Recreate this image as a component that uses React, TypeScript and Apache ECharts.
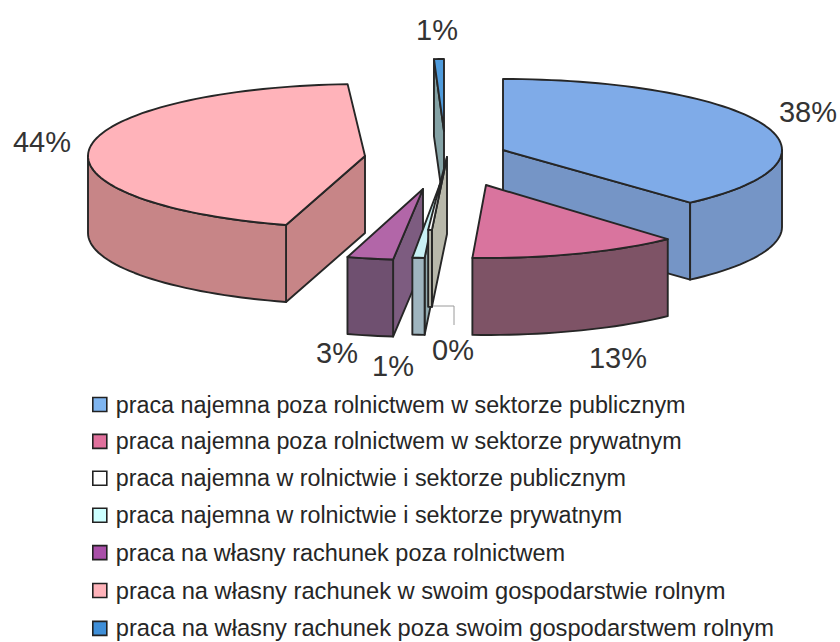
import React, { useEffect, useRef } from "react";
import * as echarts from "echarts";

const categories = [
  "praca najemna poza rolnictwem w sektorze publicznym",
  "praca najemna poza rolnictwem w sektorze prywatnym",
  "praca najemna w rolnictwie i sektorze publicznym",
  "praca najemna w rolnictwie i sektorze prywatnym",
  "praca na własny rachunek poza rolnictwem",
  "praca na własny rachunek w swoim gospodarstwie rolnym",
  "praca na własny rachunek poza swoim gospodarstwem rolnym",
];
const values = [38.3, 12.5, 0.2, 0.8, 2.8, 44.4, 1.0];

const topColors = ["#7fabe8", "#d9749e", "#ffffff", "#c9f1f5", "#b266a8", "#ffb3ba", "#4f9bdc"];
const outerColors = ["#7595c6", "#7e5366", "#b8b8aa", "#9fb5bf", "#6f5070", "#c78587", "#6f93a8"];
const radialColors = ["#7595c6", "#7e5366", "#b8b8aa", "#93adb2", "#7d5c80", "#c78587", "#85a3a6"];
const legendColors = ["#7fb5f0", "#e0709c", "#ffffff", "#ccffff", "#a94fa8", "#ffb3ba", "#3f8fd8"];
const legendFontSizes = [23.3, 23.3, 23.3, 23.3, 23.5, 23.7, 23.7];

// exploded position of every slice: apex x, apex y, radius x, radius y
const sliceLayout = [
  [503, 150, 279, 71],
  [486, 185, 271, 73],
  [447, 157, 300, 73],
  [440, 184, 245, 74],
  [423, 189, 265, 71],
  [365, 156, 277, 72],
  [444, 131, 160, 72],
];
const depth = 77;
const paintOrder = [6, 0, 5, 4, 3, 2, 1];
const labelLayout = [
  [808, 112],
  [618, 358],
  [453, 350],
  [393, 366],
  [337, 353],
  [42, 142],
  [437, 30],
];
const edge = "#262626";

const total = values.reduce((a, b) => a + b, 0);
const DEG = Math.PI / 180;

function range(i: number): [number, number] {
  let s = 0;
  for (let k = 0; k < i; k++) s += values[k];
  return [(s / total) * 360, ((s + values[i]) / total) * 360];
}

function rim(i: number, a: number): [number, number] {
  const [ax, ay, rx, ry] = sliceLayout[i];
  return [ax + rx * Math.sin(a * DEG), ay - ry * Math.cos(a * DEG)];
}

function arc(i: number, from: number, to: number, dy = 0): number[][] {
  const out: number[][] = [];
  const n = Math.max(2, Math.ceil(Math.abs(to - from) / 2));
  for (let k = 0; k <= n; k++) {
    const p = rim(i, from + ((to - from) * k) / n);
    out.push([p[0], p[1] + dy]);
  }
  return out;
}

function poly(points: number[][], fill: string) {
  return {
    type: "polygon",
    shape: { points },
    style: { fill, stroke: edge, lineWidth: 1.9, lineJoin: "round" },
  };
}

function renderSlice(i: number) {
  const [s, e] = range(i);
  const [ax, ay] = sliceLayout[i];
  const children: any[] = [];
  const wall = (a: number) => {
    const p = rim(i, a);
    return poly(
      [
        [ax, ay],
        p,
        [p[0], p[1] + depth],
        [ax, ay + depth],
      ],
      radialColors[i]
    );
  };
  if (Math.sin(s * DEG) < -1e-6) children.push(wall(s));
  if (Math.sin(e * DEG) > 1e-6) children.push(wall(e));
  const from = Math.max(s, 90);
  const to = Math.min(e, 270);
  if (to > from) {
    children.push(
      poly([...arc(i, from, to), ...arc(i, to, from, depth)], outerColors[i])
    );
  }
  children.push(poly([[ax, ay], ...arc(i, s, e)], topColors[i]));
  return { type: "group", children };
}

export default function App() {
  const ref = useRef<HTMLDivElement>(null);
  useEffect(() => {
    const chart = echarts.init(ref.current!, undefined, { renderer: "svg" });
    chart.setOption({
      animation: false,
      backgroundColor: "#ffffff",
      legend: {
        orient: "vertical",
        left: 92,
        top: 393,
        padding: 0,
        height: 400,
        itemWidth: 14,
        itemHeight: 14,
        itemGap: 13.9,
        selectedMode: false,
        textStyle: {
          fontFamily: "Liberation Sans",
          fontSize: 23.3,
          color: "#262626",
          padding: [0, 0, 0, 4],
        },
        data: categories.map((name, i) => ({
          name,
          icon: "rect",
          itemStyle: { color: legendColors[i], borderColor: "#222", borderWidth: 1.6 },
          textStyle: {
            fontFamily: "Liberation Sans",
            fontSize: legendFontSizes[i],
            color: "#262626",
            padding: [0, 0, 0, 4],
          },
        })),
      },
      series: paintOrder.map((i) => ({
        type: "custom",
        name: categories[i],
        coordinateSystem: "none",
        data: [[values[i]]],
        itemStyle: { color: legendColors[i] },
        renderItem: () => renderSlice(i),
      })),
      graphic: [
        {
          type: "polyline",
          shape: { points: [[432, 306], [454, 306], [454, 325]] },
          style: { stroke: "#9a9a9a", lineWidth: 1, fill: "none" },
        },
        ...values.map((v, i) => ({
          type: "text",
          x: labelLayout[i][0],
          y: labelLayout[i][1],
          style: {
            text: `${Math.round(v)}%`,
            fontFamily: "Liberation Sans",
            fontSize: 29,
            fill: "#333333",
            align: "center",
            verticalAlign: "middle",
          },
        })),
      ],
    });
    return () => chart.dispose();
  }, []);
  return (
    <div
      ref={ref}
      style={{ position: "absolute", left: 0, top: 0, width: 840, height: 642 }}
    />
  );
}
